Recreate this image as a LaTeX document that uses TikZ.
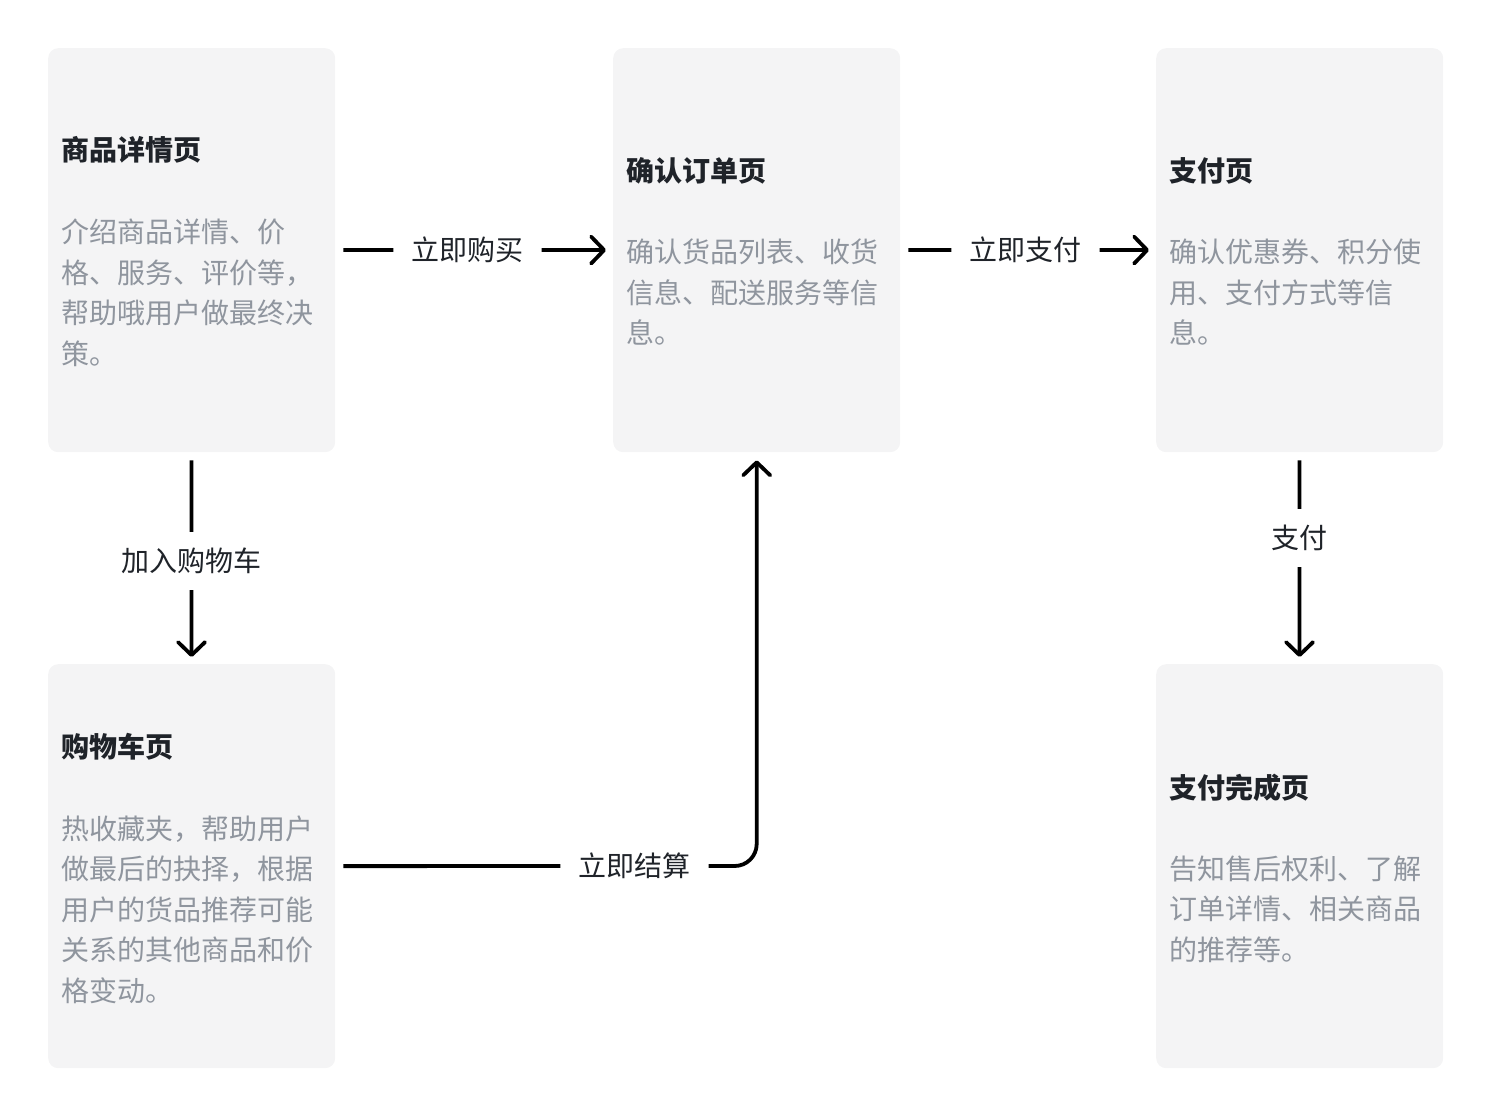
\documentclass[tikz,border=0pt]{standalone}
\usepackage{fontspec}
\setmainfont{Noto Sans CJK SC}
\usetikzlibrary{arrows.meta}
\definecolor{boxfill}{HTML}{F4F4F5}
\definecolor{titlecol}{HTML}{1F2329}
\definecolor{bodycol}{HTML}{8F959E}
\begin{document}
\begin{tikzpicture}[x=1pt,y=-1pt,
 card/.style={rectangle, rounded corners=10pt, fill=boxfill, minimum width=287pt, minimum height=404pt, anchor=north west, inner sep=0pt},
 ttl/.style={anchor=base west, inner sep=0pt, font=\fontsize{28}{40.5}\selectfont\bfseries, text=titlecol},
 body/.style={anchor=base west, inner sep=0pt, font=\fontsize{28}{40.5}\selectfont, text=bodycol},
 lbl/.style={fill=white, font=\fontsize{28}{34}\selectfont, text=titlecol, inner xsep=18pt, inner ysep=16pt, text height=23.5pt, text depth=2.5pt},
 conn/.style={line width=3.8pt, draw=black},
 arr/.style={conn, -{Straight Barb[length=13pt,width=27pt,line cap=round,line join=round]}}
]
\useasboundingbox (0,0) rectangle (1492,1118);

% cards
\node[card] (b1) at (48,48) {};
\node[card] (b2) at (613,48) {};
\node[card] (b3) at (1156,48) {};
\node[card] (b4) at (48,664) {};
\node[card] (b6) at (1156,664) {};

% texts
\node[ttl] (t1) at (61,161) {商品详情页};
\node[body] (d1) at (61,243) {\parbox[t]{280pt}{\raggedright 介绍商品详情、价\\格、服务、评价等，\\帮助哦用户做最终决\\策。}};

\node[ttl] (t2) at (626,182) {确认订单页};
\node[body] (d2) at (626,263) {\parbox[t]{280pt}{\raggedright 确认货品列表、收货\\信息、配送服务等信\\息。}};

\node[ttl] (t3) at (1169,182) {支付页};
\node[body] (d3) at (1169,263) {\parbox[t]{280pt}{\raggedright 确认优惠券、积分使\\用、支付方式等信\\息。}};

\node[ttl] (t4) at (61,757) {购物车页};
\node[body] (d4) at (61,839) {\parbox[t]{280pt}{\raggedright 热收藏夹，帮助用户\\做最后的抉择，根据\\用户的货品推荐可能\\关系的其他商品和价\\格变动。}};

\node[ttl] (t6) at (1169,798) {支付完成页};
\node[body] (d6) at (1169,879) {\parbox[t]{280pt}{\raggedright 告知售后权利、了解\\订单详情、相关商品\\的推荐等。}};

% labels
\node[lbl] (l1) at (467.5,250) {立即购买};
\node[lbl] (l2) at (1025.5,250) {立即支付};
\node[lbl] (l3) at (191.5,561) {加入购物车};
\node[lbl] (l4) at (1299.5,538) {支付};
\node[lbl] (l5) at (634.5,866) {立即结算};

% connectors
\draw[conn, shorten <=8pt] (b1) -- (l1);
\draw[arr, shorten >=7pt] (l1) -- (b2);
\draw[conn, shorten <=8pt] (b2) -- (l2);
\draw[arr, shorten >=7pt] (l2) -- (b3);
\draw[conn, shorten <=8pt] (b1) -- (l3);
\draw[arr, shorten >=7pt] (l3) -- (b4);
\draw[conn, shorten <=8pt] (b3) -- (l4);
\draw[arr, shorten >=7pt] (l4) -- (b6);
\draw[conn, shorten <=8pt] (b4) -- (l5);
\draw[arr, rounded corners=22pt, shorten >=8pt] (l5.east) -| (b2.south);
\end{tikzpicture}
\end{document}
